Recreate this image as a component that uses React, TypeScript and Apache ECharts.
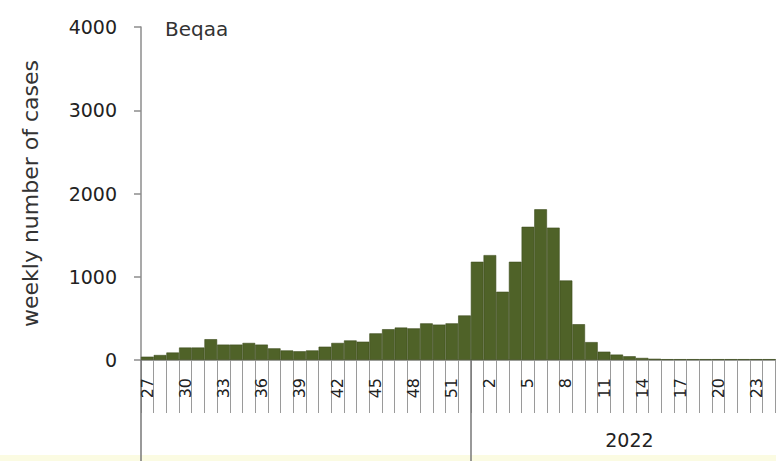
import React, { useEffect, useRef } from "react";
import * as echarts from "echarts";

const weeks: string[] = [
  "27", "28", "29", "30", "31", "32", "33", "34", "35", "36", "37", "38", "39",
  "40", "41", "42", "43", "44", "45", "46", "47", "48", "49", "50", "51", "52",
  "1", "2", "3", "4", "5", "6", "7", "8", "9", "10", "11", "12", "13", "14",
  "15", "16", "17", "18", "19", "20", "21", "22", "23", "24", "25",
];

const cases: number[] = [
  40, 60, 90, 150, 150, 250, 185, 185, 205, 185, 140, 115, 105,
  115, 160, 205, 235, 220, 320, 370, 390, 380, 440, 425, 440, 535,
  1180, 1260, 820, 1180, 1600, 1810, 1590, 955, 430, 215, 100, 65, 45, 25,
  15, 10, 10, 10, 10, 10, 10, 10, 10, 10, 10,
];

const yearLabel = "2022";
const yearStartIndex = 26;
const yearLabelIndex = 38;
const regionName = "Beqaa";
const yAxisTitle = "weekly number of cases";

const FONT = "DejaVu Sans";

export default function App() {
  const ref = useRef<HTMLDivElement>(null);
  useEffect(() => {
    if (!ref.current) return;
    const chart = echarts.init(ref.current, undefined, { renderer: "svg" });
    chart.setOption({
      animation: false,
      backgroundColor: "#ffffff",
      title: {
        text: regionName,
        left: 165,
        top: 19,
        padding: 0,
        textStyle: { fontFamily: FONT, fontSize: 20, fontWeight: "normal", color: "#333" },
      },
      grid: { left: 141, top: 27, height: 333, width: 647, outerBoundsMode: "none", containLabel: false },
      xAxis: [
        {
          type: "category",
          data: weeks,
          boundaryGap: true,
          axisLine: { lineStyle: { color: "#8c8c8c", width: 1.5 } },
          axisTick: { show: true, interval: 0, length: 53, lineStyle: { color: "#9a9a9a", width: 1 } },
          axisLabel: {
            interval: 2,
            rotate: 90,
            margin: 18,
            fontFamily: FONT,
            fontSize: 16,
            color: "#222",
          },
        },
        {
          type: "category",
          data: weeks,
          position: "bottom",
          boundaryGap: true,
          axisLine: { show: false },
          axisTick: {
            show: true,
            length: 101,
            interval: (i: number) => i === 0 || i === yearStartIndex,
            lineStyle: { color: "#777", width: 1.5 },
          },
          axisLabel: {
            interval: (i: number) => i === yearLabelIndex,
            formatter: (_v: string, i: number) => (i === yearLabelIndex ? yearLabel : ""),
            margin: 70,
            fontFamily: FONT,
            fontSize: 19,
            color: "#222",
          },
        },
      ],
      yAxis: {
        type: "value",
        min: 0,
        max: 4000,
        interval: 1000,
        name: yAxisTitle,
        nameLocation: "middle",
        nameGap: 100,
        nameTextStyle: { fontFamily: FONT, fontSize: 22, color: "#333" },
        splitLine: { show: false },
        axisLine: { show: true, lineStyle: { color: "#8c8c8c", width: 1.5 } },
        axisTick: { show: true, length: 7, lineStyle: { color: "#8c8c8c", width: 1.5 } },
        axisLabel: {
          margin: 24,
          fontFamily: FONT,
          fontSize: 19,
          color: "#222",
          formatter: (v: number) => String(v),
        },
      },
      series: [
        {
          type: "bar",
          data: cases,
          barWidth: "100%",
          barCategoryGap: 0,
          itemStyle: { color: "#4F6228", borderColor: "#3c4b1d", borderWidth: 0.6 },
        },
      ],
      graphic: [
        {
          type: "rect",
          left: 0,
          bottom: 0,
          shape: { width: 776, height: 6 },
          style: { fill: "#fbfbe2" },
          silent: true,
        },
      ],
    });
    return () => chart.dispose();
  }, []);
  return (
    <div
      ref={ref}
      style={{ position: "fixed", left: 0, top: 0, width: 776, height: 461, overflow: "hidden" }}
    />
  );
}
